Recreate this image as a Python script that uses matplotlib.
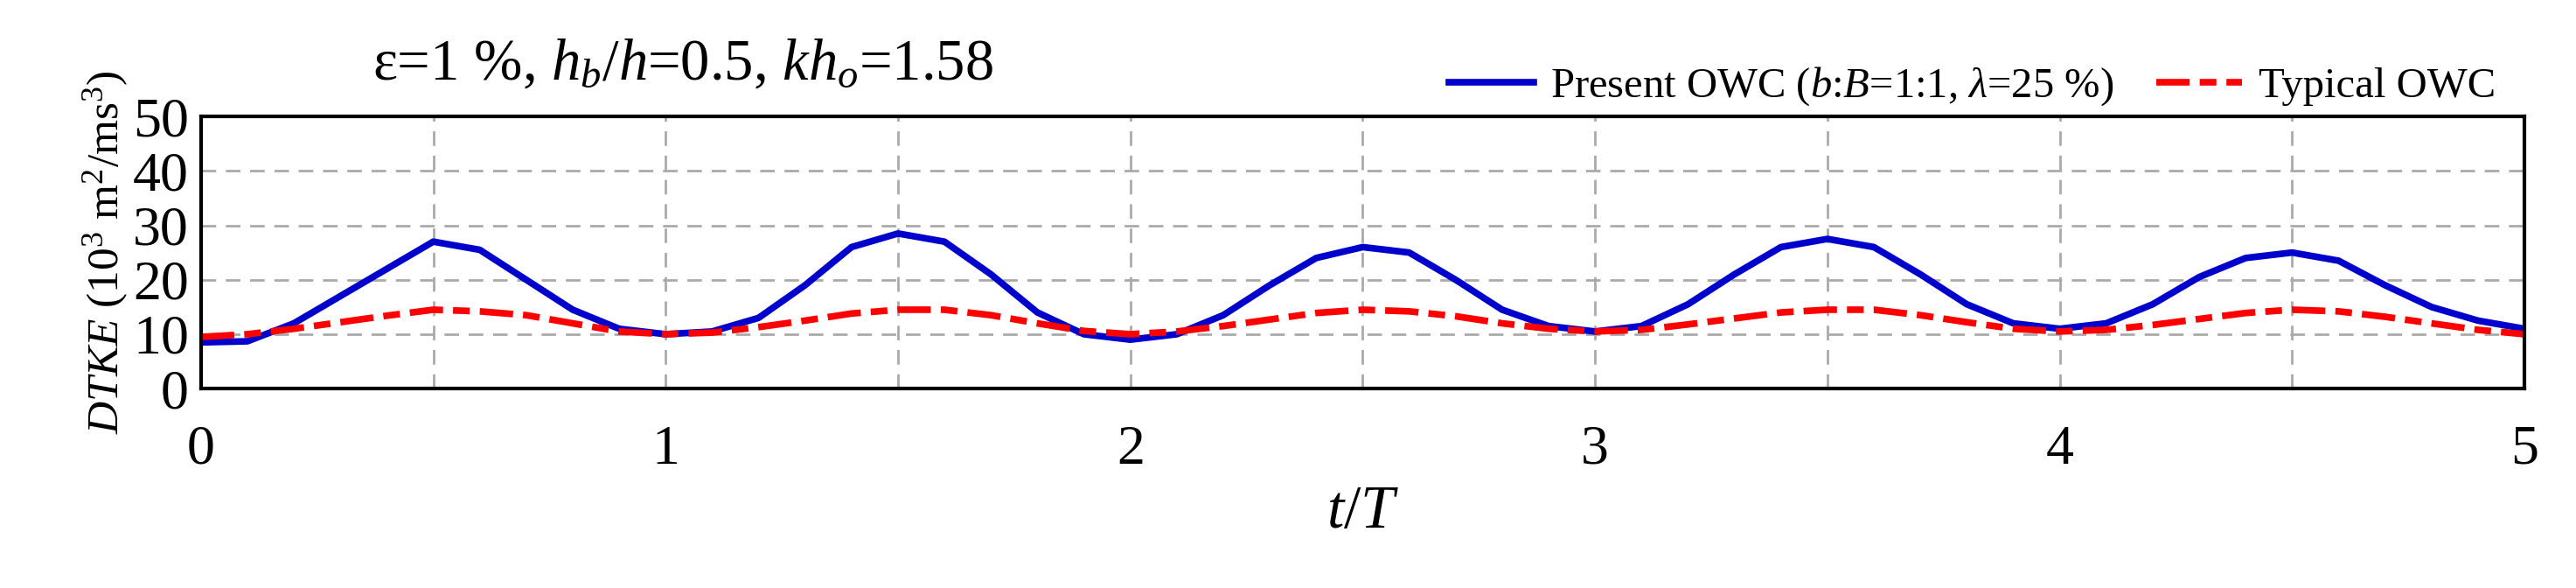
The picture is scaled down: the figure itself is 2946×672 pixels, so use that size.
import numpy as np
from matplotlib import pyplot as plt

plt.rcParams["font.family"] = "Liberation Serif"
plt.rcParams["mathtext.fontset"] = "custom"
plt.rcParams["mathtext.rm"] = "Liberation Serif"
plt.rcParams["mathtext.it"] = "Liberation Serif:italic"

t = np.round(np.arange(0, 5.01, 0.1), 2)
present_owc = [8.5, 8.7, 12, 17, 22, 27, 25.5, 20, 14.5, 11,
               10, 10.5, 13, 19, 26, 28.5, 27, 21, 14, 10,
               9, 10, 13.5, 19, 24, 26, 25, 20, 14.5, 11.5,
               10.5, 11.5, 15.5, 21, 26, 27.5, 26, 21, 15.5, 12,
               11, 12, 15.5, 20.5, 24, 25, 23.5, 19, 15, 12.5, 11]
typical_owc = [9.5, 10, 11, 12.2, 13.4, 14.5, 14.2, 13.5, 12, 10.5,
               10, 10.3, 11.3, 12.5, 13.8, 14.5, 14.5, 13.5, 12, 10.6,
               10, 10.5, 11.5, 12.7, 13.9, 14.5, 14.2, 13.3, 12, 11,
               10.5, 10.8, 11.8, 12.9, 14, 14.5, 14.5, 13.5, 12.2, 11,
               10.5, 10.8, 11.7, 12.8, 13.9, 14.5, 14.2, 13.2, 12, 10.8, 10]

fig = plt.figure(figsize=(29.46, 6.72), dpi=100)
ax = fig.add_axes([0.078, 0.339, 0.902, 0.463])

ax.plot(t, present_owc, color="#0000cc", lw=5.5, solid_joinstyle="round",
        label=r"Present OWC ($b$:$B$=1:1, $\lambda$=25 %)")
ax.plot(t, typical_owc, color="#ff0000", lw=5.5, dashes=(5, 1.5, 2.5, 1.5),
        label="Typical OWC")

ax.set_xlim(0, 5)
ax.set_ylim(0, 50)
ax.set_xticks(range(6))
ax.set_xticks(np.arange(0.5, 5, 1), minor=True)
ax.set_yticks(range(0, 51, 10))
ax.grid(True, which="both", color="#aaaaaa", ls=(0, (6, 4)), lw=2)
ax.tick_params(which="both", length=0, labelsize=46, pad=10)
ax.tick_params(axis="x", pad=30)
for s in ax.spines.values():
    s.set_linewidth(3)

ax.set_xlabel(r"$t/T$", fontsize=50, labelpad=8)
ax.set_ylabel(r"$DTKE$ (10$^3$ m$^2$/ms$^3$)", fontsize=37, labelpad=2)
fig.text(0.265, 0.89, r"ε=1 %, $h_b/h$=0.5, $kh_o$=1.58", fontsize=48,
         ha="center", va="center")
ax.legend(loc="lower right", bbox_to_anchor=(0.995, 0.97), ncol=2, frameon=False,
          fontsize=35, handlelength=2.0, handletextpad=0.4, columnspacing=1.0,
          borderaxespad=0)

fig.savefig("out.png")
